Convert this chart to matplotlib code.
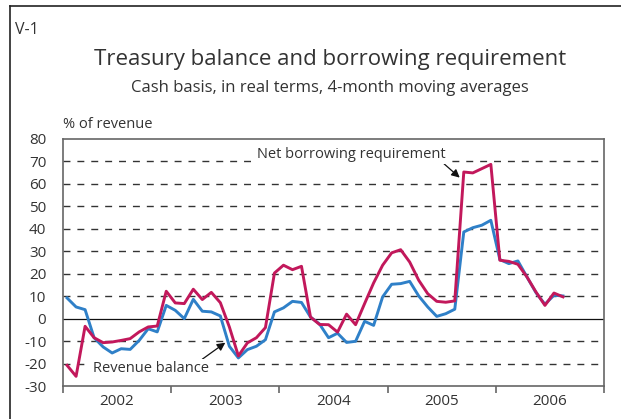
import matplotlib.pyplot as plt
import numpy as np
from matplotlib.lines import Line2D

plt.rcParams['font.family'] = ['Open Sans', 'DejaVu Sans']

# monthly values, Jan 2002 .. Aug 2006, % of revenue
years = ["2002", "2003", "2004", "2005", "2006"]
net_borrowing = [
    -20.8, -25.7, -3.4, -8.5, -10.7, -10.4, -9.7, -8.9, -5.9, -3.7, -3.3, 12.2,
    7.0, 6.7, 13.1, 8.5, 11.7, 7.1, -3.7, -16.6, -10.8, -8.5, -4.0, 20.3,
    23.8, 21.8, 23.3, 0.7, -2.6, -2.7, -6.0, 2.0, -2.7, 6.7, 15.9, 23.8,
    29.3, 30.7, 25.2, 17.1, 11.1, 7.7, 7.3, 7.9, 65.3, 64.9, 66.8, 68.7,
    26.0, 25.5, 24.2, 18.6, 11.9, 5.9, 11.4, 9.7,
]
revenue_balance = [
    9.2, 5.2, 4.0, -8.5, -12.6, -15.3, -13.4, -13.7, -9.7, -4.5, -5.9, 5.9,
    3.7, 0.0, 8.6, 3.3, 3.0, 1.2, -12.3, -17.5, -13.8, -12.3, -9.4, 3.0,
    4.8, 7.7, 7.2, 0.7, -2.4, -8.5, -6.5, -10.6, -10.1, -1.2, -3.0, 9.7,
    15.3, 15.6, 16.6, 10.1, 5.2, 1.0, 2.2, 4.2, 38.6, 40.5, 41.6, 43.8,
    26.3, 24.5, 25.7, 18.6, 11.6, 6.4, 10.4, 10.1,
]
y_ticks = [-30, -20, -10, 0, 10, 20, 30, 40, 50, 60, 70, 80]

red = "#c2185b"
blue = "#2f80c8"
txt = "#333333"

fig = plt.figure(figsize=(6.21, 4.19), dpi=100)

# outer frame (left and top edge)
fig.add_artist(Line2D([10 / 621, 10 / 621], [0, 1 - 6 / 419], transform=fig.transFigure, color="#222222", lw=1.2))
fig.add_artist(Line2D([10 / 621, 1], [1 - 6 / 419, 1 - 6 / 419], transform=fig.transFigure, color="#222222", lw=1.2))

fig.text(15 / 621, 1 - 30 / 419, "V-1", fontsize=11.5, color=txt, va="center", ha="left")
fig.text(330 / 621, 1 - 60 / 419, "Treasury balance and borrowing requirement",
         fontsize=16, color=txt, ha="center", va="center")
fig.text(330 / 621, 1 - 88 / 419, "Cash basis, in real terms, 4-month moving averages",
         fontsize=12, color=txt, ha="center", va="center")
fig.text(63 / 621, 1 - 125 / 419, "% of revenue", fontsize=10.5, color=txt, ha="left", va="center")

ax = fig.add_axes([63 / 621, 1 - 386 / 419, (604 - 63) / 621, (386 - 139) / 419])

x = np.arange(len(net_borrowing)) + 0.45
n_months = len(years) * 12

# grid
for v in y_ticks[1:-1]:
    if v == 0:
        ax.axhline(0, color="#111111", lw=0.9, zorder=1)
    else:
        ax.axhline(v, color="#333333", lw=1.0, ls=(0, (5, 5)), zorder=1)

ax.plot(x, net_borrowing, color=red, lw=2.1, zorder=3)
ax.plot(x, revenue_balance, color=blue, lw=2.1, zorder=2)

ax.set_xlim(0, n_months)
ax.set_ylim(-30, 80)
ax.set_yticks(y_ticks)
ax.set_yticklabels([str(v) for v in y_ticks], fontsize=11, color=txt)
ax.tick_params(axis="y", length=0, pad=12)

ax.set_xticks(np.arange(0, n_months + 1, 12))
ax.set_xticklabels([])
ax.set_xticks(np.arange(6, n_months, 12), minor=True)
ax.set_xticklabels(years, minor=True, fontsize=11, color=txt)
ax.tick_params(axis="x", which="major", length=5, width=1.2, color="#666666", direction="out")
ax.tick_params(axis="x", which="minor", length=0, pad=6)

for s in ax.spines.values():
    s.set_color("#666666")
    s.set_linewidth(1.2)

box = dict(facecolor="white", edgecolor="none", pad=1.5)
ax.annotate("Net borrowing requirement", xy=(44.0, 62.8), xytext=(21.5, 73.2),
            fontsize=10.5, color=txt, ha="left", va="center", bbox=box, zorder=4,
            arrowprops=dict(arrowstyle="-|>", color="#111111", lw=0.9,
                            shrinkA=0, shrinkB=0, mutation_scale=12,
                            relpos=(0.98, 0.0)))
ax.annotate("Revenue balance", xy=(18.0, -10.7), xytext=(3.3, -22.3),
            fontsize=10.5, color=txt, ha="left", va="center", bbox=box, zorder=4,
            arrowprops=dict(arrowstyle="-|>", color="#111111", lw=0.9,
                            shrinkA=0, shrinkB=0, mutation_scale=12,
                            relpos=(0.92, 1.0)))

fig.savefig("out.png", dpi=100)
